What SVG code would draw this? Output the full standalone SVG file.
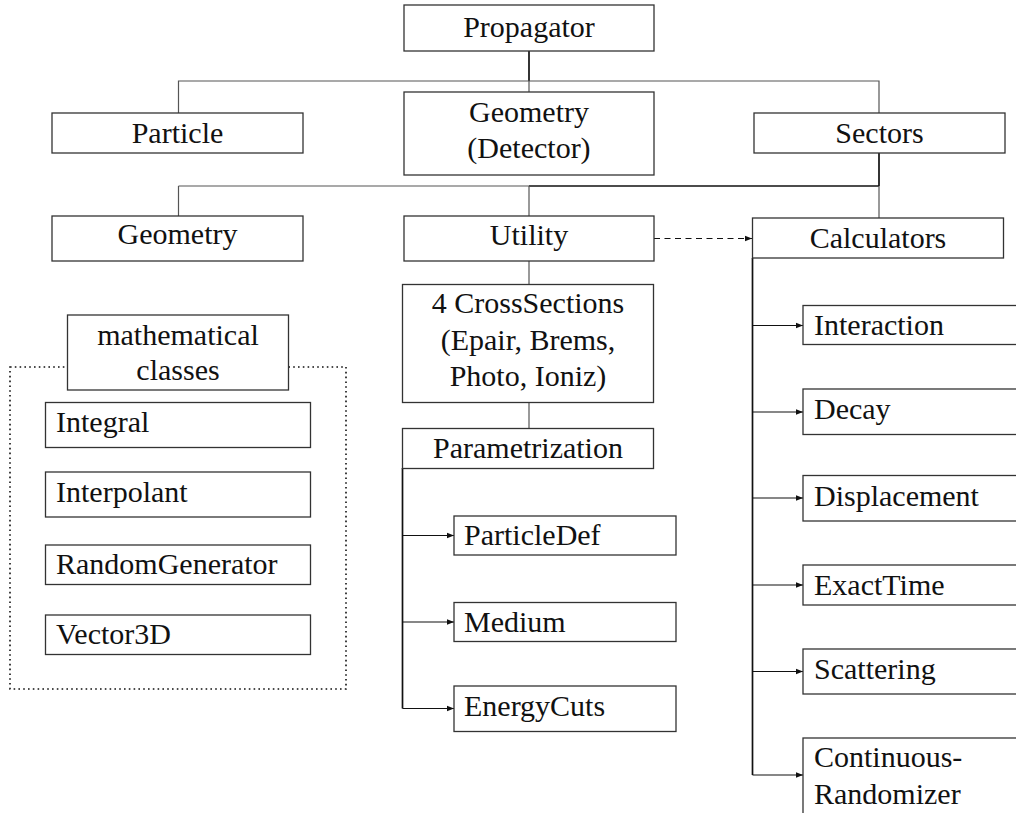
<svg xmlns="http://www.w3.org/2000/svg" width="1016" height="813" viewBox="0 0 1016 813">
<style>
  .box { fill: #ffffff; stroke: #333333; stroke-width: 1.3; }
  .ln { fill: none; stroke: #555555; stroke-width: 1.2; }
  .lk { fill: none; stroke: #111111; stroke-width: 1.7; }
  .arr { fill: none; stroke: #111111; stroke-width: 1.2; marker-end: url(#ah); }
  .dash { fill: none; stroke: #111111; stroke-width: 1.2; stroke-dasharray: 6 4.5; marker-end: url(#ah); }
  .dot { fill: none; stroke: #111111; stroke-width: 1.6; stroke-dasharray: 1.6 3.2; }
</style>
<defs>
  <marker id="ah" viewBox="0 0 10 10" refX="10" refY="5" markerWidth="7" markerHeight="7" markerUnits="userSpaceOnUse" orient="auto">
    <path d="M0,1 L10,5 L0,9 Z" fill="#111111"/>
  </marker>
</defs>
<rect width="1016" height="813" fill="#ffffff"/>

<g id="connectors">
  <line class="lk" x1="529" y1="51" x2="529" y2="81"/>
  <line class="ln" x1="529" y1="81" x2="529" y2="92"/>
  <polyline class="ln" points="178.5,113 178.5,81 879,81 879,113"/>
  <line class="lk" x1="879" y1="153" x2="879" y2="186"/>
  <line class="lk" x1="529" y1="186" x2="879" y2="186"/>
  <line class="ln" x1="178.5" y1="186" x2="529" y2="186"/>
  <line class="ln" x1="178.5" y1="186" x2="178.5" y2="216"/>
  <line class="ln" x1="529" y1="186" x2="529" y2="216"/>
  <line class="ln" x1="879" y1="186" x2="879" y2="218"/>
  <line class="ln" x1="529" y1="261" x2="529" y2="284"/>
  <line class="ln" x1="529" y1="402" x2="529" y2="428"/>
  <line class="dash" x1="654" y1="238.5" x2="752" y2="238.5"/>
  <line class="lk" x1="402.5" y1="468" x2="402.5" y2="708.5"/>
  <line class="arr" x1="402.5" y1="535.5" x2="454" y2="535.5"/>
  <line class="arr" x1="402.5" y1="622" x2="454" y2="622"/>
  <line class="arr" x1="402.5" y1="708.5" x2="454" y2="708.5"/>
  <line class="lk" x1="752.5" y1="258" x2="752.5" y2="775"/>
  <line class="arr" x1="752.5" y1="325.5" x2="803" y2="325.5"/>
  <line class="arr" x1="752.5" y1="412" x2="803" y2="412"/>
  <line class="arr" x1="752.5" y1="498" x2="803" y2="498"/>
  <line class="arr" x1="752.5" y1="585" x2="803" y2="585"/>
  <line class="arr" x1="752.5" y1="671.5" x2="803" y2="671.5"/>
  <line class="arr" x1="752.5" y1="775" x2="803" y2="775"/>
</g>

<g id="math-group">
  <rect class="dot" x="10" y="367" width="336" height="322"/>
</g>

<g id="propagator"><rect class="box" x="404" y="5" width="250" height="46"/><text font-family="Liberation Serif" font-size="30" fill="#111111" text-anchor="middle" x="529" y="37">Propagator</text></g>
<g id="particle"><rect class="box" x="52" y="113" width="251" height="40"/><text font-family="Liberation Serif" font-size="30" fill="#111111" text-anchor="middle" x="177.5" y="143">Particle</text></g>
<g id="geometry-detector"><rect class="box" x="404" y="92" width="250" height="83"/><text font-family="Liberation Serif" font-size="30" fill="#111111" text-anchor="middle" x="529" y="122">Geometry</text><text font-family="Liberation Serif" font-size="30" fill="#111111" text-anchor="middle" x="529" y="157.5">(Detector)</text></g>
<g id="sectors"><rect class="box" x="754" y="113" width="251" height="40"/><text font-family="Liberation Serif" font-size="30" fill="#111111" text-anchor="middle" x="879.5" y="143">Sectors</text></g>
<g id="geometry"><rect class="box" x="52" y="216" width="251" height="45"/><text font-family="Liberation Serif" font-size="30" fill="#111111" text-anchor="middle" x="177.5" y="244">Geometry</text></g>
<g id="utility"><rect class="box" x="404" y="216" width="250" height="45"/><text font-family="Liberation Serif" font-size="30" fill="#111111" text-anchor="middle" x="529" y="244.5">Utility</text></g>
<g id="calculators"><rect class="box" x="752.5" y="218" width="251" height="40"/><text font-family="Liberation Serif" font-size="30" fill="#111111" text-anchor="middle" x="878" y="248">Calculators</text></g>

<g id="mathematical-classes"><rect class="box" x="67.5" y="315" width="221" height="75"/><text font-family="Liberation Serif" font-size="30" fill="#111111" text-anchor="middle" x="178" y="345">mathematical</text><text font-family="Liberation Serif" font-size="30" fill="#111111" text-anchor="middle" x="178" y="380">classes</text></g>
<g id="integral"><rect class="box" x="45.5" y="402.5" width="265" height="45"/><text font-family="Liberation Serif" font-size="30" fill="#111111" x="56" y="432">Integral</text></g>
<g id="interpolant"><rect class="box" x="45.5" y="472" width="265" height="45"/><text font-family="Liberation Serif" font-size="30" fill="#111111" x="56" y="502">Interpolant</text></g>
<g id="randomgenerator"><rect class="box" x="45.5" y="545" width="265" height="39.5"/><text font-family="Liberation Serif" font-size="30" fill="#111111" x="56" y="574">RandomGenerator</text></g>
<g id="vector3d"><rect class="box" x="45.5" y="615" width="265" height="39.5"/><text font-family="Liberation Serif" font-size="30" fill="#111111" x="56" y="644">Vector3D</text></g>

<g id="crosssections"><rect class="box" x="402.5" y="284.5" width="251" height="118"/><text font-family="Liberation Serif" font-size="30" fill="#111111" text-anchor="middle" x="528" y="313">4 CrossSections</text><text font-family="Liberation Serif" font-size="30" fill="#111111" text-anchor="middle" x="528" y="350">(Epair, Brems,</text><text font-family="Liberation Serif" font-size="30" fill="#111111" text-anchor="middle" x="528" y="386">Photo, Ioniz)</text></g>
<g id="parametrization"><rect class="box" x="402.5" y="428.5" width="251" height="40"/><text font-family="Liberation Serif" font-size="30" fill="#111111" text-anchor="middle" x="528" y="458">Parametrization</text></g>
<g id="particledef"><rect class="box" x="454" y="516" width="222" height="39"/><text font-family="Liberation Serif" font-size="30" fill="#111111" x="464" y="545">ParticleDef</text></g>
<g id="medium"><rect class="box" x="454" y="602.5" width="222" height="39"/><text font-family="Liberation Serif" font-size="30" fill="#111111" x="464" y="632">Medium</text></g>
<g id="energycuts"><rect class="box" x="454" y="686" width="222" height="45.5"/><text font-family="Liberation Serif" font-size="30" fill="#111111" x="464" y="716">EnergyCuts</text></g>

<g id="interaction"><rect class="box" x="803" y="305.5" width="260" height="39"/><text font-family="Liberation Serif" font-size="30" fill="#111111" x="814" y="335">Interaction</text></g>
<g id="decay"><rect class="box" x="803" y="389" width="260" height="45.5"/><text font-family="Liberation Serif" font-size="30" fill="#111111" x="814" y="419">Decay</text></g>
<g id="displacement"><rect class="box" x="803" y="475.5" width="260" height="45.5"/><text font-family="Liberation Serif" font-size="30" fill="#111111" x="814" y="506">Displacement</text></g>
<g id="exacttime"><rect class="box" x="803" y="565" width="260" height="40"/><text font-family="Liberation Serif" font-size="30" fill="#111111" x="814" y="594.5">ExactTime</text></g>
<g id="scattering"><rect class="box" x="803" y="649" width="260" height="45"/><text font-family="Liberation Serif" font-size="30" fill="#111111" x="814" y="678.5">Scattering</text></g>
<g id="continuous-randomizer"><rect class="box" x="803" y="738" width="260" height="100"/><text font-family="Liberation Serif" font-size="30" fill="#111111" x="814" y="767">Continuous-</text><text font-family="Liberation Serif" font-size="30" fill="#111111" x="814" y="803.5">Randomizer</text></g>
</svg>
